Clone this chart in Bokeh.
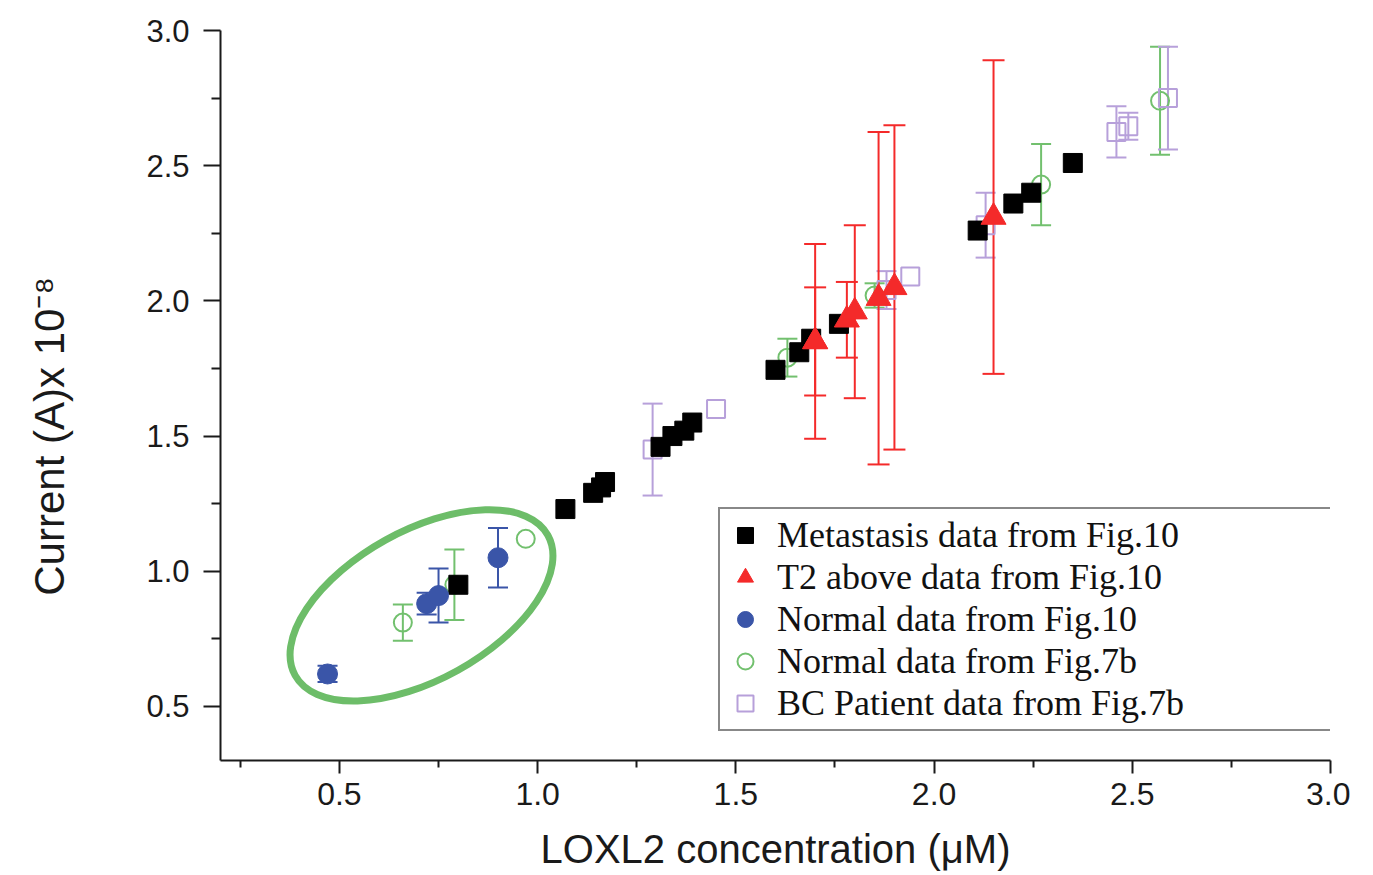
import math
from bokeh.plotting import figure
from bokeh.models import (ColumnDataSource, Whisker, TeeHead, FixedTicker, Legend, LegendItem,
                          Range1d)
from bokeh.embed import file_html
from bokeh.resources import INLINE

# ---------------- data ----------------
x_ticks = [0.5, 1.0, 1.5, 2.0, 2.5, 3.0]
x_tick_labels = ["0.5", "1.0", "1.5", "2.0", "2.5", "3.0"]
x_minor = [0.25, 0.75, 1.25, 1.75, 2.25, 2.75]
y_ticks = [0.5, 1.0, 1.5, 2.0, 2.5, 3.0]
y_tick_labels = ["0.5", "1.0", "1.5", "2.0", "2.5", "3.0"]
y_minor = [0.75, 1.25, 1.75, 2.25, 2.75]

x_title = "LOXL2 concentration (\u03bcM)"
y_title = "Current (A)x 10\u207b\u2078"

# Metastasis data from Fig.10 (black squares)
meta_x = [0.80, 1.07, 1.14, 1.16, 1.17, 1.31, 1.34, 1.37, 1.39, 1.60, 1.66, 1.69, 1.76, 2.11, 2.20, 2.245, 2.35]
meta_y = [0.95, 1.23, 1.29, 1.31, 1.33, 1.46, 1.50, 1.52, 1.55, 1.745, 1.81, 1.86, 1.915, 2.26, 2.36, 2.40, 2.51]

# T2 above data from Fig.10 (red triangles)
t2_x = [1.70, 1.70, 1.78, 1.80, 1.86, 1.90, 2.15]
t2_y = [1.85, 1.85, 1.93, 1.96, 2.01, 2.05, 2.31]
t2_err = [0.36, 0.20, 0.14, 0.32, 0.615, 0.60, 0.58]

# Normal data from Fig.10 (blue filled circles)
n10_x = [0.47, 0.72, 0.75, 0.90]
n10_y = [0.62, 0.88, 0.91, 1.05]
n10_err = [0.03, 0.04, 0.10, 0.11]

# Normal data from Fig.7b (green open circles)
n7_x = [0.66, 0.79, 0.97, 1.63, 1.85, 2.27, 2.57]
n7_y = [0.81, 0.95, 1.12, 1.79, 2.02, 2.43, 2.74]
n7_err = [0.067, 0.13, 0.0, 0.07, 0.045, 0.15, 0.20]

# BC Patient data from Fig.7b (purple open squares)
bc_x = [1.29, 1.45, 1.88, 1.94, 2.13, 2.46, 2.49, 2.59]
bc_y = [1.45, 1.60, 2.04, 2.09, 2.28, 2.625, 2.646, 2.75]
bc_err = [0.17, 0.0, 0.07, 0.0, 0.12, 0.095, 0.05, 0.19]

labels = ["Metastasis data from Fig.10", "T2 above data from Fig.10",
          "Normal data from Fig.10", "Normal data from Fig.7b",
          "BC Patient data from Fig.7b"]

# highlight ellipse annotation (centre in data units)
ell_center = (0.707, 0.874)

# ---------------- styles ----------------
BLACK = "#000000"
RED = "#f42a2a"
BLUE = "#3a55a8"
GREEN = "#72c06e"
ELL_GREEN = "#6dbd69"
PURPLE = "#b7a0da"
TEXT = "#1a1a1a"

p = figure(width=1350, height=875, output_backend="svg", toolbar_location=None,
           x_range=Range1d(0.2, 3.0), y_range=Range1d(0.3, 3.0),
           min_border_left=220, min_border_right=20, min_border_top=30, min_border_bottom=115)
p.xgrid.visible = False
p.ygrid.visible = False
p.outline_line_color = None
p.background_fill_color = "white"
p.border_fill_color = "white"


def err_source(xs, ys, es):
    xx, lo, hi = [], [], []
    for a, b, e in zip(xs, ys, es):
        if e > 0:
            xx.append(a); lo.append(b - e); hi.append(b + e)
    return ColumnDataSource(dict(x=xx, lower=lo, upper=hi))


def add_whisker(xs, ys, es, color, head=20):
    w = Whisker(source=err_source(xs, ys, es), base="x", lower="lower", upper="upper",
                line_color=color, line_width=2, level="underlay",
                upper_head=TeeHead(size=head, line_color=color, line_width=2),
                lower_head=TeeHead(size=head, line_color=color, line_width=2))
    p.add_layout(w)


add_whisker(n7_x, n7_y, n7_err, GREEN)
add_whisker(bc_x, bc_y, bc_err, PURPLE)
add_whisker(n10_x, n10_y, n10_err, BLUE)
add_whisker(t2_x, t2_y, t2_err, RED, head=22)

# ellipse annotation
p.ellipse(x=[ell_center[0]], y=[ell_center[1]], width=289, height=149,
          width_units="screen", height_units="screen", angle=math.radians(29),
          fill_color=None, line_color=ELL_GREEN, line_width=7)

r_n7 = p.scatter(n7_x, n7_y, marker="circle", size=18, fill_color=None,
                 line_color=GREEN, line_width=2)
r_bc = p.scatter(bc_x, bc_y, marker="square", size=18, fill_color=None,
                 line_color=PURPLE, line_width=2)
r_meta = p.scatter(meta_x, meta_y, marker="square", size=19, fill_color=BLACK,
                   line_color=BLACK)
r_n10 = p.scatter(n10_x, n10_y, marker="circle", size=20, fill_color=BLUE,
                  line_color=BLUE)
r_t2 = p.scatter(t2_x, t2_y, marker="triangle", size=25, fill_color=RED,
                 line_color=RED)

# axes
for ax, ticks, minor, lbls in ((p.xaxis, x_ticks, x_minor, x_tick_labels),
                               (p.yaxis, y_ticks, y_minor, y_tick_labels)):
    ax.ticker = FixedTicker(ticks=ticks, minor_ticks=minor)
    ax.major_label_overrides = {t: l for t, l in zip(ticks, lbls)}
    ax.axis_line_width = 2
    ax.axis_line_color = TEXT
    ax.major_tick_line_width = 2
    ax.minor_tick_line_width = 2
    ax.major_tick_line_color = TEXT
    ax.minor_tick_line_color = TEXT
    ax.major_tick_in = 0
    ax.minor_tick_in = 0
    ax.major_label_text_font = "Liberation Sans"
    ax.axis_label_text_font = "Liberation Sans"
    ax.axis_label_text_font_style = "normal"
    ax.major_label_text_color = TEXT
    ax.axis_label_text_color = TEXT

p.xaxis.major_tick_out = 13
p.xaxis.minor_tick_out = 7
p.yaxis.major_tick_out = 17
p.yaxis.minor_tick_out = 9
p.xaxis.major_label_text_font_size = "32px"
p.yaxis.major_label_text_font_size = "31px"
p.xaxis.major_label_standoff = 9
p.yaxis.major_label_standoff = 14
p.xaxis.axis_label = x_title
p.xaxis.axis_label_text_font_size = "40px"
p.xaxis.axis_label_standoff = 19

# y-axis title; trailing no-break spaces shift the visible text down like the original
p.yaxis.axis_label = y_title + "\u00a0" * 7
p.yaxis.axis_label_text_font_size = "42px"
p.yaxis.axis_label_standoff = 70

legend = Legend(items=[LegendItem(label=labels[0], renderers=[r_meta]),
                       LegendItem(label=labels[1], renderers=[r_t2]),
                       LegendItem(label=labels[2], renderers=[r_n10]),
                       LegendItem(label=labels[3], renderers=[r_n7]),
                       LegendItem(label=labels[4], renderers=[r_bc])],
                location=(498, 29))
legend.label_text_font = "Liberation Serif"
legend.label_text_font_size = "36px"
legend.label_text_color = "#111111"
legend.border_line_color = "#111111"
legend.border_line_width = 2
legend.padding = 5
legend.spacing = 0
legend.margin = 0
legend.glyph_width = 40
legend.glyph_height = 40
legend.label_height = 40
legend.label_width = 555
legend.label_standoff = 12
legend.background_fill_alpha = 1
p.add_layout(legend)

open("out.html", "w").write(file_html(p, INLINE))
